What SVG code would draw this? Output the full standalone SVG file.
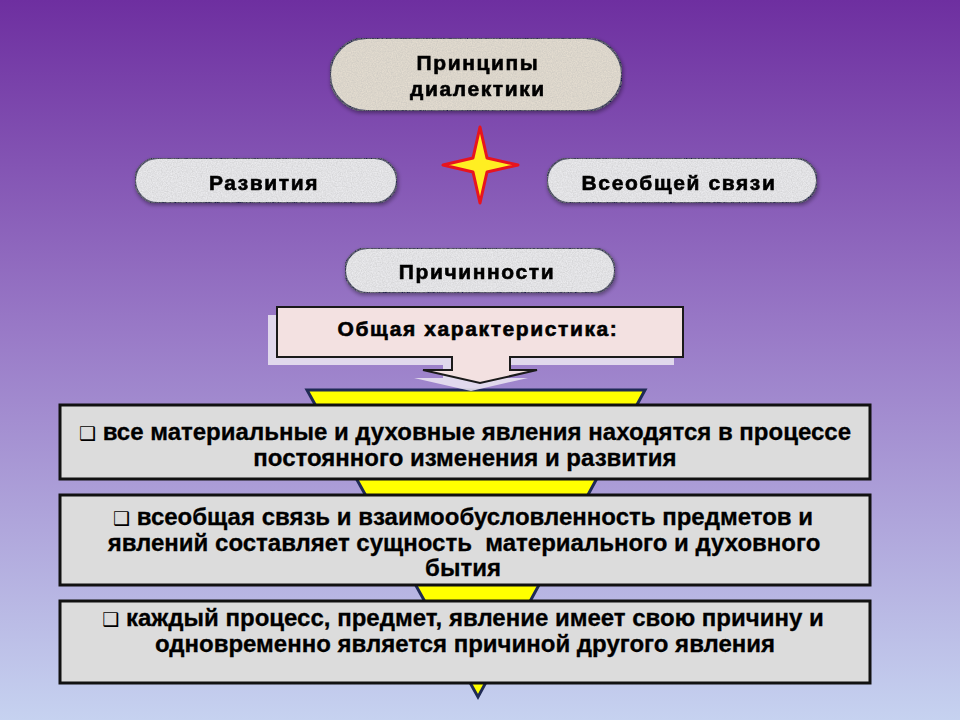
<svg xmlns="http://www.w3.org/2000/svg" width="960" height="720" viewBox="0 0 960 720">
<defs>
<linearGradient id="bg" x1="0" y1="0" x2="0" y2="1">
<stop offset="0" stop-color="#6e2fa0"/>
<stop offset="0.45" stop-color="#9878c6"/>
<stop offset="1" stop-color="#c6d2f0"/>
</linearGradient>
<filter id="noise" x="0" y="0" width="100%" height="100%">
<feTurbulence type="fractalNoise" baseFrequency="0.8" numOctaves="2" seed="3" result="n"/>
<feColorMatrix in="n" type="matrix" values="0 0 0 0 0.45  0 0 0 0 0.45  0 0 0 0 0.45  0 0 0 0.7 -0.15" result="g"/>
<feComposite in="g" in2="SourceGraphic" operator="in" result="gi"/>
<feMerge><feMergeNode in="SourceGraphic"/><feMergeNode in="gi"/></feMerge>
</filter>
<filter id="soft" x="-10%" y="-20%" width="120%" height="150%">
<feGaussianBlur in="SourceAlpha" stdDeviation="2"/>
<feOffset dx="1" dy="2" result="b"/>
<feComponentTransfer><feFuncA type="linear" slope="0.4"/></feComponentTransfer>
<feMerge><feMergeNode/><feMergeNode in="SourceGraphic"/></feMerge>
</filter>
</defs>
<style>
.pill{stroke:#1a1f4a;stroke-width:2}
.p1{fill:#e4ddd0}
.p2{fill:#ebebee}
.ht{font-family:"Liberation Sans",Arial,sans-serif;font-weight:bold;font-size:21px;letter-spacing:1.6px;fill:#000;stroke:#000;stroke-width:0.6;text-anchor:middle}
.box{fill:#dcdcdc;stroke:#111;stroke-width:3}
.bt{font-family:"Liberation Sans",Arial,sans-serif;font-weight:bold;font-size:24px;fill:#000;stroke:#000;stroke-width:0.3;text-anchor:middle}
.bul{font-family:"DejaVu Sans",sans-serif;font-weight:normal;font-size:19px;stroke:none}
</style>
<rect x="0" y="0" width="960" height="720" fill="url(#bg)"/>

<g id="connectors">
<polygon id="funnel" points="307,390 645,390 478,697" fill="#ffff00" stroke="#1f2a55" stroke-width="3" stroke-linejoin="miter"/>
</g>

<g id="node-principles" filter="url(#soft)">
<rect class="pill p1" x="330" y="38" width="292" height="73" rx="36.5" filter="url(#noise)"/>
<text class="ht" x="478" y="70">Принципы</text>
<text class="ht" x="478" y="96">диалектики</text>
</g>

<g id="star">
<polygon points="480,127 487,158 518,165 487,172 480,203 473,172 443,165 473,158" fill="#ffee22" stroke="#e8141e" stroke-width="3" stroke-linejoin="round"/>
</g>

<g id="node-development" filter="url(#soft)">
<rect class="pill p2" x="135" y="158" width="262" height="45" rx="22.5" filter="url(#noise)"/>
<text class="ht" x="264" y="190">Развития</text>
</g>

<g id="node-connection" filter="url(#soft)">
<rect class="pill p2" x="547" y="158" width="270" height="45" rx="22.5" filter="url(#noise)"/>
<text class="ht" x="679" y="190">Всеобщей связи</text>
</g>

<g id="node-causality" filter="url(#soft)">
<rect class="pill p2" x="345" y="248" width="270" height="45" rx="22.5" filter="url(#noise)"/>
<text class="ht" x="477" y="279">Причинности</text>
</g>

<g id="node-general">
<path d="M268,315 H674 V365 H501 V378 H528 L471,391 L414,378 H443 V365 H268 Z" fill="#ece8f2" opacity="0.85"/>
<path d="M277,307 H683 V357 H510 V370 H537 L480,383 L423,370 H452 V357 H277 Z" fill="#f3e1e1" stroke="#1a1a1a" stroke-width="2"/>
<text class="ht" x="478" y="336">Общая характеристика:</text>
</g>

<g id="box-1">
<rect class="box" x="60" y="405" width="810" height="74"/>
<text class="bt" x="465" y="440"><tspan class="bul">❑</tspan> все материальные и духовные явления находятся в процессе</text>
<text class="bt" x="465" y="466">постоянного изменения и развития</text>
</g>

<g id="box-2">
<rect class="box" x="60" y="495" width="810" height="90"/>
<text class="bt" x="463" y="525"><tspan class="bul">❑</tspan> всеобщая связь и взаимообусловленность предметов и</text>
<text class="bt" x="464" y="551" xml:space="preserve">явлений составляет сущность  материального и духовного</text>
<text class="bt" x="463" y="576">бытия</text>
</g>

<g id="box-3">
<rect class="box" x="60" y="601" width="810" height="82"/>
<text class="bt" x="463" y="626"><tspan class="bul">❑</tspan> каждый процесс, предмет, явление имеет свою причину и</text>
<text class="bt" x="465" y="652">одновременно является причиной другого явления</text>
</g>
</svg>
